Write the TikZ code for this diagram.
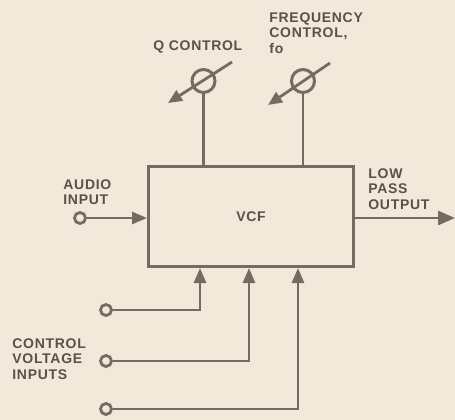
\documentclass[tikz,border=0pt]{standalone}
\usepackage{fontspec}
\newfontfamily\diagfont[LetterSpace=5]{Liberation Sans}
\usetikzlibrary{arrows.meta,positioning}
\definecolor{paper}{RGB}{242,233,218}
\definecolor{ink}{RGB}{120,105,97}
\definecolor{textink}{RGB}{92,80,74}

\begin{document}
\begin{tikzpicture}[
  x=1pt, y=-1pt,
  color=ink, line width=2.8pt,
  box/.style={draw, line width=3pt, minimum width=205pt, minimum height=100pt,
              inner sep=0pt, text=textink, font=\diagfont\bfseries\fontsize{14}{15}\selectfont},
  knob/.style={circle, draw, line width=3pt, minimum size=23pt, inner sep=0pt},
  jack/.style={circle, draw, line width=2.8pt, minimum size=11pt, inner sep=0pt},
  arr/.style={-{Triangle[length=15pt,width=12pt]}},
  turn/.style={-{Triangle[length=14pt,width=12pt]}},
  lbl/.style={font=\diagfont\bfseries\fontsize{14}{15.5}\selectfont, text=textink,
              align=left, inner sep=0pt, anchor=north west}
]
\useasboundingbox[fill=paper] (0,0) rectangle (455,420);

% filter block
\node[box] (vcf) at (251,216.5) {VCF};

% knobs on top
\node[knob] (qknob) at (203.5,81) {};
\node[knob] (fknob) at (303,81) {};
\coordinate (qfrom) at (232,62);
\coordinate (qto) at (168,103);
\coordinate (ffrom) at (330,63);
\coordinate (fto) at (268,105);
\draw[turn] (qfrom) -- (qto);
\draw[turn] (ffrom) -- (fto);
\draw (qknob.south) -- (qknob.south |- vcf.north);
\draw (fknob.south) -- (fknob.south |- vcf.north);

% audio in, low pass out
\node[jack] (ajack) at (80,218) {};
\draw[arr] (ajack.east) -- (ajack.east -| vcf.west);
\coordinate (out) at (455,218);
\draw[-{Triangle[length=17pt,width=14pt]}] (out -| vcf.east) -- (out);

% control voltage inputs
\node[jack] (cv1) at (106,310) {};
\node[jack] (cv2) at (106,361) {};
\node[jack] (cv3) at (106,409) {};
\draw[arr] (cv1.east) -| ([xshift=-51pt]vcf.south);
\draw[arr] (cv2.east) -| ([xshift=-2pt]vcf.south);
\draw[arr] (cv3.east) -| ([xshift=47pt]vcf.south);

% labels
\node[lbl] (qlbl) at (152,39) {Q CONTROL};
\node[lbl] (flbl) at (268,11) {FREQUENCY\\CONTROL,\\fo};
\node[lbl] (albl) at (62,178) {AUDIO\\INPUT};
\node[lbl] (olbl) at (367,167) {LOW\\PASS\\OUTPUT};
\node[lbl] (clbl) at (11,337) {CONTROL\\VOLTAGE\\INPUTS};
\end{tikzpicture}
\end{document}
